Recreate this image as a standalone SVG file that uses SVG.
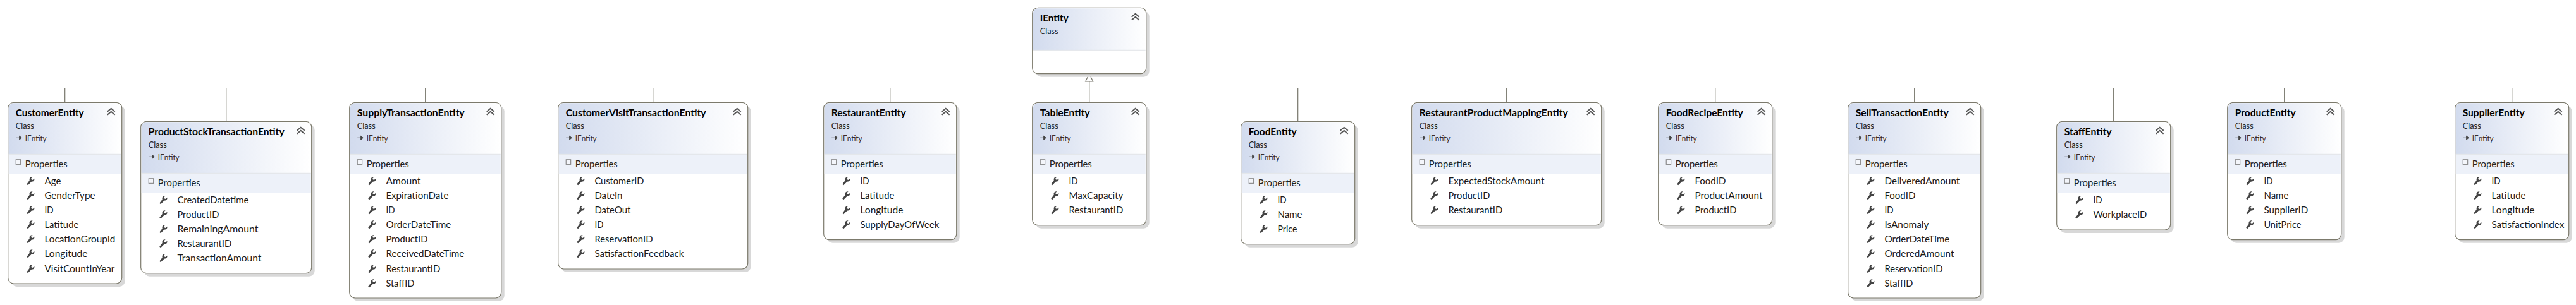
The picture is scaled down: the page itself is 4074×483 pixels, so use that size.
<svg xmlns="http://www.w3.org/2000/svg" width="4074" height="483" viewBox="0 0 4074 483">
<style>
text{font-family:"Lato","Noto Sans",sans-serif;lengthAdjust:spacingAndGlyphs}
.t{font-size:15.5px;font-weight:700;fill:#000}
.c{font-size:13.3px;fill:#222}
.i{font-size:13.3px;fill:#3a2a2a}
.p{font-size:15px;fill:#222}
.m{font-size:15px;fill:#1a1a1a}
.box{fill:#fff;stroke:#7c7a6c;stroke-width:1.2}
.sh{fill:#d8d8d8}
.hd{fill:url(#hg)}
.band{fill:#edf1f9}
.sep{stroke:#e2e4e8;stroke-width:1;fill:none}
.cn{fill:none;stroke:#77756a;stroke-width:1.2}
</style>
<defs>
<linearGradient id="hg" x1="0" x2="1" y1="0" y2="0"><stop offset="0" stop-color="#d2dbee"/><stop offset="1" stop-color="#fff"/></linearGradient>
<g id="w"><path d="M0.5 11.5L2.5 13L8 7.5Q11.5 7.5 12.5 5Q13 3.5 12.5 2.5L10 4.8L8 4L7.6 2L10 0Q7.5 -0.3 6 1Q4.2 2.6 5 5.5Z" fill="#444"/></g>
<g id="v"><path d="M0 5.5L6 0.5L12 5.5M0 10.5L6 5.5L12 10.5" fill="none" stroke="#555" stroke-width="2"/></g>
<g id="x"><rect x="0.5" y="0.5" width="7.5" height="7.5" fill="#f4f6fb" stroke="#777"/><path d="M2 4.2H6.5" stroke="#333"/></g>
<g id="a"><path d="M0 4H6M5.5 1V7L9 4Z" fill="#444" stroke="#444" stroke-width="1"/></g>
</defs>
<g id="connectors">
<path class="cn" d="M102.7 139.5H3972.7M1722.7 129V162M102.7 139.5V162M357.7 139.5V192M672.7 139.5V162M1032.7 139.5V162M1407.7 139.5V162M2052.7 139.5V192M2382.7 139.5V162M2712.7 139.5V162M3027.7 139.5V162M3342.7 139.5V192M3612.7 139.5V162M3972.7 139.5V162"/>
<path d="M1722.7 117L1716.7 129H1728.7Z" fill="#fff" stroke="#77756a" stroke-width="1.2"/>
</g>
<g id="IEntity" transform="translate(1632.7 12.3)"><rect class="sh" x="5" y="5" width="180" height="104.4" rx="9"/><rect class="box" width="180" height="104.4" rx="9"/><path class="hd" d="M1 67V9A8 8 0 0 1 9 1H171A8 8 0 0 1 179 9V67Z"/><path class="sep" d="M1 67H179"/><use href="#v" x="157" y="9"/><text class="t" x="12" y="22" textLength="45" lengthAdjust="spacingAndGlyphs">IEntity</text><text class="c" x="12" y="42" textLength="29" lengthAdjust="spacingAndGlyphs">Class</text></g>

<g id="CustomerEntity" transform="translate(12.7 162.3)"><rect class="sh" x="5" y="5" width="180" height="286.7" rx="9"/><rect class="box" width="180" height="286.7" rx="9"/><path class="hd" d="M1 82V9A8 8 0 0 1 9 1H171A8 8 0 0 1 179 9V82Z"/><rect class="band" x="1" y="82" width="178" height="31"/><path class="sep" d="M1 82H179"/><use href="#v" x="157" y="9"/><use href="#a" x="12.5" y="52"/><use href="#x" x="12" y="90"/>
<text class="t" x="12" y="22" textLength="108" lengthAdjust="spacingAndGlyphs">CustomerEntity</text><text class="c" x="12" y="42" textLength="29" lengthAdjust="spacingAndGlyphs">Class</text><text class="i" x="27" y="62" textLength="34" lengthAdjust="spacingAndGlyphs">IEntity</text><text class="p" x="27" y="103" textLength="67" lengthAdjust="spacingAndGlyphs">Properties</text>
<use href="#w" x="29" y="118"/><text class="m" x="57.7" y="130" textLength="26" lengthAdjust="spacingAndGlyphs">Age</text>
<use href="#w" x="29" y="141"/><text class="m" x="57.7" y="153" textLength="80" lengthAdjust="spacingAndGlyphs">GenderType</text>
<use href="#w" x="29" y="164"/><text class="m" x="57.7" y="176" textLength="14" lengthAdjust="spacingAndGlyphs">ID</text>
<use href="#w" x="29" y="187"/><text class="m" x="57.7" y="199" textLength="54" lengthAdjust="spacingAndGlyphs">Latitude</text>
<use href="#w" x="29" y="210"/><text class="m" x="57.7" y="222" textLength="112" lengthAdjust="spacingAndGlyphs">LocationGroupId</text>
<use href="#w" x="29" y="233"/><text class="m" x="57.7" y="245" textLength="68" lengthAdjust="spacingAndGlyphs">Longitude</text>
<use href="#w" x="29" y="257"/><text class="m" x="57.7" y="269" textLength="111" lengthAdjust="spacingAndGlyphs">VisitCountInYear</text></g>

<g id="ProductStockTransactionEntity" transform="translate(222.7 192.3)"><rect class="sh" x="5" y="5" width="270" height="240.4" rx="9"/><rect class="box" width="270" height="240.4" rx="9"/><path class="hd" d="M1 82V9A8 8 0 0 1 9 1H261A8 8 0 0 1 269 9V82Z"/><rect class="band" x="1" y="82" width="268" height="31"/><path class="sep" d="M1 82H269"/><use href="#v" x="247" y="9"/><use href="#a" x="12.5" y="52"/><use href="#x" x="12" y="90"/>
<text class="t" x="12" y="22" textLength="215" lengthAdjust="spacingAndGlyphs">ProductStockTransactionEntity</text><text class="c" x="12" y="42" textLength="29" lengthAdjust="spacingAndGlyphs">Class</text><text class="i" x="27" y="62" textLength="34" lengthAdjust="spacingAndGlyphs">IEntity</text><text class="p" x="27" y="103" textLength="67" lengthAdjust="spacingAndGlyphs">Properties</text>
<use href="#w" x="29" y="118"/><text class="m" x="57.7" y="130" textLength="113" lengthAdjust="spacingAndGlyphs">CreatedDatetime</text>
<use href="#w" x="29" y="141"/><text class="m" x="57.7" y="153" textLength="66" lengthAdjust="spacingAndGlyphs">ProductID</text>
<use href="#w" x="29" y="164"/><text class="m" x="57.7" y="176" textLength="128" lengthAdjust="spacingAndGlyphs">RemainingAmount</text>
<use href="#w" x="29" y="187"/><text class="m" x="57.7" y="199" textLength="86" lengthAdjust="spacingAndGlyphs">RestaurantID</text>
<use href="#w" x="29" y="210"/><text class="m" x="57.7" y="222" textLength="133" lengthAdjust="spacingAndGlyphs">TransactionAmount</text></g>

<g id="SupplyTransactionEntity" transform="translate(552.7 162.3)"><rect class="sh" x="5" y="5" width="240" height="309.7" rx="9"/><rect class="box" width="240" height="309.7" rx="9"/><path class="hd" d="M1 82V9A8 8 0 0 1 9 1H231A8 8 0 0 1 239 9V82Z"/><rect class="band" x="1" y="82" width="238" height="31"/><path class="sep" d="M1 82H239"/><use href="#v" x="217" y="9"/><use href="#a" x="12.5" y="52"/><use href="#x" x="12" y="90"/>
<text class="t" x="12" y="22" textLength="170" lengthAdjust="spacingAndGlyphs">SupplyTransactionEntity</text><text class="c" x="12" y="42" textLength="29" lengthAdjust="spacingAndGlyphs">Class</text><text class="i" x="27" y="62" textLength="34" lengthAdjust="spacingAndGlyphs">IEntity</text><text class="p" x="27" y="103" textLength="67" lengthAdjust="spacingAndGlyphs">Properties</text>
<use href="#w" x="29" y="118"/><text class="m" x="57.7" y="130" textLength="55" lengthAdjust="spacingAndGlyphs">Amount</text>
<use href="#w" x="29" y="141"/><text class="m" x="57.7" y="153" textLength="99" lengthAdjust="spacingAndGlyphs">ExpirationDate</text>
<use href="#w" x="29" y="164"/><text class="m" x="57.7" y="176" textLength="14" lengthAdjust="spacingAndGlyphs">ID</text>
<use href="#w" x="29" y="187"/><text class="m" x="57.7" y="199" textLength="103" lengthAdjust="spacingAndGlyphs">OrderDateTime</text>
<use href="#w" x="29" y="210"/><text class="m" x="57.7" y="222" textLength="66" lengthAdjust="spacingAndGlyphs">ProductID</text>
<use href="#w" x="29" y="233"/><text class="m" x="57.7" y="245" textLength="124" lengthAdjust="spacingAndGlyphs">ReceivedDateTime</text>
<use href="#w" x="29" y="257"/><text class="m" x="57.7" y="269" textLength="86" lengthAdjust="spacingAndGlyphs">RestaurantID</text>
<use href="#w" x="29" y="280"/><text class="m" x="57.7" y="292" textLength="45" lengthAdjust="spacingAndGlyphs">StaffID</text></g>

<g id="CustomerVisitTransactionEntity" transform="translate(882.7 162.3)"><rect class="sh" x="5" y="5" width="300" height="263.7" rx="9"/><rect class="box" width="300" height="263.7" rx="9"/><path class="hd" d="M1 82V9A8 8 0 0 1 9 1H291A8 8 0 0 1 299 9V82Z"/><rect class="band" x="1" y="82" width="298" height="31"/><path class="sep" d="M1 82H299"/><use href="#v" x="277" y="9"/><use href="#a" x="12.5" y="52"/><use href="#x" x="12" y="90"/>
<text class="t" x="12" y="22" textLength="222" lengthAdjust="spacingAndGlyphs">CustomerVisitTransactionEntity</text><text class="c" x="12" y="42" textLength="29" lengthAdjust="spacingAndGlyphs">Class</text><text class="i" x="27" y="62" textLength="34" lengthAdjust="spacingAndGlyphs">IEntity</text><text class="p" x="27" y="103" textLength="67" lengthAdjust="spacingAndGlyphs">Properties</text>
<use href="#w" x="29" y="118"/><text class="m" x="57.7" y="130" textLength="78" lengthAdjust="spacingAndGlyphs">CustomerID</text>
<use href="#w" x="29" y="141"/><text class="m" x="57.7" y="153" textLength="44" lengthAdjust="spacingAndGlyphs">DateIn</text>
<use href="#w" x="29" y="164"/><text class="m" x="57.7" y="176" textLength="57" lengthAdjust="spacingAndGlyphs">DateOut</text>
<use href="#w" x="29" y="187"/><text class="m" x="57.7" y="199" textLength="14" lengthAdjust="spacingAndGlyphs">ID</text>
<use href="#w" x="29" y="210"/><text class="m" x="57.7" y="222" textLength="92" lengthAdjust="spacingAndGlyphs">ReservationID</text>
<use href="#w" x="29" y="233"/><text class="m" x="57.7" y="245" textLength="141" lengthAdjust="spacingAndGlyphs">SatisfactionFeedback</text></g>

<g id="RestaurantEntity" transform="translate(1302.7 162.3)"><rect class="sh" x="5" y="5" width="210" height="217.4" rx="9"/><rect class="box" width="210" height="217.4" rx="9"/><path class="hd" d="M1 82V9A8 8 0 0 1 9 1H201A8 8 0 0 1 209 9V82Z"/><rect class="band" x="1" y="82" width="208" height="31"/><path class="sep" d="M1 82H209"/><use href="#v" x="187" y="9"/><use href="#a" x="12.5" y="52"/><use href="#x" x="12" y="90"/>
<text class="t" x="12" y="22" textLength="118" lengthAdjust="spacingAndGlyphs">RestaurantEntity</text><text class="c" x="12" y="42" textLength="29" lengthAdjust="spacingAndGlyphs">Class</text><text class="i" x="27" y="62" textLength="34" lengthAdjust="spacingAndGlyphs">IEntity</text><text class="p" x="27" y="103" textLength="67" lengthAdjust="spacingAndGlyphs">Properties</text>
<use href="#w" x="29" y="118"/><text class="m" x="57.7" y="130" textLength="14" lengthAdjust="spacingAndGlyphs">ID</text>
<use href="#w" x="29" y="141"/><text class="m" x="57.7" y="153" textLength="54" lengthAdjust="spacingAndGlyphs">Latitude</text>
<use href="#w" x="29" y="164"/><text class="m" x="57.7" y="176" textLength="68" lengthAdjust="spacingAndGlyphs">Longitude</text>
<use href="#w" x="29" y="187"/><text class="m" x="57.7" y="199" textLength="125" lengthAdjust="spacingAndGlyphs">SupplyDayOfWeek</text></g>

<g id="TableEntity" transform="translate(1632.7 162.3)"><rect class="sh" x="5" y="5" width="180" height="194.4" rx="9"/><rect class="box" width="180" height="194.4" rx="9"/><path class="hd" d="M1 82V9A8 8 0 0 1 9 1H171A8 8 0 0 1 179 9V82Z"/><rect class="band" x="1" y="82" width="178" height="31"/><path class="sep" d="M1 82H179"/><use href="#v" x="157" y="9"/><use href="#a" x="12.5" y="52"/><use href="#x" x="12" y="90"/>
<text class="t" x="12" y="22" textLength="79" lengthAdjust="spacingAndGlyphs">TableEntity</text><text class="c" x="12" y="42" textLength="29" lengthAdjust="spacingAndGlyphs">Class</text><text class="i" x="27" y="62" textLength="34" lengthAdjust="spacingAndGlyphs">IEntity</text><text class="p" x="27" y="103" textLength="67" lengthAdjust="spacingAndGlyphs">Properties</text>
<use href="#w" x="29" y="118"/><text class="m" x="57.7" y="130" textLength="14" lengthAdjust="spacingAndGlyphs">ID</text>
<use href="#w" x="29" y="141"/><text class="m" x="57.7" y="153" textLength="86" lengthAdjust="spacingAndGlyphs">MaxCapacity</text>
<use href="#w" x="29" y="164"/><text class="m" x="57.7" y="176" textLength="86" lengthAdjust="spacingAndGlyphs">RestaurantID</text></g>

<g id="FoodEntity" transform="translate(1962.7 192.3)"><rect class="sh" x="5" y="5" width="180" height="194.4" rx="9"/><rect class="box" width="180" height="194.4" rx="9"/><path class="hd" d="M1 82V9A8 8 0 0 1 9 1H171A8 8 0 0 1 179 9V82Z"/><rect class="band" x="1" y="82" width="178" height="31"/><path class="sep" d="M1 82H179"/><use href="#v" x="157" y="9"/><use href="#a" x="12.5" y="52"/><use href="#x" x="12" y="90"/>
<text class="t" x="12" y="22" textLength="76" lengthAdjust="spacingAndGlyphs">FoodEntity</text><text class="c" x="12" y="42" textLength="29" lengthAdjust="spacingAndGlyphs">Class</text><text class="i" x="27" y="62" textLength="34" lengthAdjust="spacingAndGlyphs">IEntity</text><text class="p" x="27" y="103" textLength="67" lengthAdjust="spacingAndGlyphs">Properties</text>
<use href="#w" x="29" y="118"/><text class="m" x="57.7" y="130" textLength="14" lengthAdjust="spacingAndGlyphs">ID</text>
<use href="#w" x="29" y="141"/><text class="m" x="57.7" y="153" textLength="39" lengthAdjust="spacingAndGlyphs">Name</text>
<use href="#w" x="29" y="164"/><text class="m" x="57.7" y="176" textLength="31" lengthAdjust="spacingAndGlyphs">Price</text></g>

<g id="RestaurantProductMappingEntity" transform="translate(2232.7 162.3)"><rect class="sh" x="5" y="5" width="300" height="194.4" rx="9"/><rect class="box" width="300" height="194.4" rx="9"/><path class="hd" d="M1 82V9A8 8 0 0 1 9 1H291A8 8 0 0 1 299 9V82Z"/><rect class="band" x="1" y="82" width="298" height="31"/><path class="sep" d="M1 82H299"/><use href="#v" x="277" y="9"/><use href="#a" x="12.5" y="52"/><use href="#x" x="12" y="90"/>
<text class="t" x="12" y="22" textLength="235" lengthAdjust="spacingAndGlyphs">RestaurantProductMappingEntity</text><text class="c" x="12" y="42" textLength="29" lengthAdjust="spacingAndGlyphs">Class</text><text class="i" x="27" y="62" textLength="34" lengthAdjust="spacingAndGlyphs">IEntity</text><text class="p" x="27" y="103" textLength="67" lengthAdjust="spacingAndGlyphs">Properties</text>
<use href="#w" x="29" y="118"/><text class="m" x="57.7" y="130" textLength="152" lengthAdjust="spacingAndGlyphs">ExpectedStockAmount</text>
<use href="#w" x="29" y="141"/><text class="m" x="57.7" y="153" textLength="66" lengthAdjust="spacingAndGlyphs">ProductID</text>
<use href="#w" x="29" y="164"/><text class="m" x="57.7" y="176" textLength="86" lengthAdjust="spacingAndGlyphs">RestaurantID</text></g>

<g id="FoodRecipeEntity" transform="translate(2622.7 162.3)"><rect class="sh" x="5" y="5" width="180" height="194.4" rx="9"/><rect class="box" width="180" height="194.4" rx="9"/><path class="hd" d="M1 82V9A8 8 0 0 1 9 1H171A8 8 0 0 1 179 9V82Z"/><rect class="band" x="1" y="82" width="178" height="31"/><path class="sep" d="M1 82H179"/><use href="#v" x="157" y="9"/><use href="#a" x="12.5" y="52"/><use href="#x" x="12" y="90"/>
<text class="t" x="12" y="22" textLength="122" lengthAdjust="spacingAndGlyphs">FoodRecipeEntity</text><text class="c" x="12" y="42" textLength="29" lengthAdjust="spacingAndGlyphs">Class</text><text class="i" x="27" y="62" textLength="34" lengthAdjust="spacingAndGlyphs">IEntity</text><text class="p" x="27" y="103" textLength="67" lengthAdjust="spacingAndGlyphs">Properties</text>
<use href="#w" x="29" y="118"/><text class="m" x="57.7" y="130" textLength="49" lengthAdjust="spacingAndGlyphs">FoodID</text>
<use href="#w" x="29" y="141"/><text class="m" x="57.7" y="153" textLength="107" lengthAdjust="spacingAndGlyphs">ProductAmount</text>
<use href="#w" x="29" y="164"/><text class="m" x="57.7" y="176" textLength="66" lengthAdjust="spacingAndGlyphs">ProductID</text></g>

<g id="SellTransactionEntity" transform="translate(2922.7 162.3)"><rect class="sh" x="5" y="5" width="210" height="309.7" rx="9"/><rect class="box" width="210" height="309.7" rx="9"/><path class="hd" d="M1 82V9A8 8 0 0 1 9 1H201A8 8 0 0 1 209 9V82Z"/><rect class="band" x="1" y="82" width="208" height="31"/><path class="sep" d="M1 82H209"/><use href="#v" x="187" y="9"/><use href="#a" x="12.5" y="52"/><use href="#x" x="12" y="90"/>
<text class="t" x="12" y="22" textLength="147" lengthAdjust="spacingAndGlyphs">SellTransactionEntity</text><text class="c" x="12" y="42" textLength="29" lengthAdjust="spacingAndGlyphs">Class</text><text class="i" x="27" y="62" textLength="34" lengthAdjust="spacingAndGlyphs">IEntity</text><text class="p" x="27" y="103" textLength="67" lengthAdjust="spacingAndGlyphs">Properties</text>
<use href="#w" x="29" y="118"/><text class="m" x="57.7" y="130" textLength="119" lengthAdjust="spacingAndGlyphs">DeliveredAmount</text>
<use href="#w" x="29" y="141"/><text class="m" x="57.7" y="153" textLength="49" lengthAdjust="spacingAndGlyphs">FoodID</text>
<use href="#w" x="29" y="164"/><text class="m" x="57.7" y="176" textLength="14" lengthAdjust="spacingAndGlyphs">ID</text>
<use href="#w" x="29" y="187"/><text class="m" x="57.7" y="199" textLength="70" lengthAdjust="spacingAndGlyphs">IsAnomaly</text>
<use href="#w" x="29" y="210"/><text class="m" x="57.7" y="222" textLength="103" lengthAdjust="spacingAndGlyphs">OrderDateTime</text>
<use href="#w" x="29" y="233"/><text class="m" x="57.7" y="245" textLength="110" lengthAdjust="spacingAndGlyphs">OrderedAmount</text>
<use href="#w" x="29" y="257"/><text class="m" x="57.7" y="269" textLength="92" lengthAdjust="spacingAndGlyphs">ReservationID</text>
<use href="#w" x="29" y="280"/><text class="m" x="57.7" y="292" textLength="45" lengthAdjust="spacingAndGlyphs">StaffID</text></g>

<g id="StaffEntity" transform="translate(3252.7 192.3)"><rect class="sh" x="5" y="5" width="180" height="171.7" rx="9"/><rect class="box" width="180" height="171.7" rx="9"/><path class="hd" d="M1 82V9A8 8 0 0 1 9 1H171A8 8 0 0 1 179 9V82Z"/><rect class="band" x="1" y="82" width="178" height="31"/><path class="sep" d="M1 82H179"/><use href="#v" x="157" y="9"/><use href="#a" x="12.5" y="52"/><use href="#x" x="12" y="90"/>
<text class="t" x="12" y="22" textLength="75" lengthAdjust="spacingAndGlyphs">StaffEntity</text><text class="c" x="12" y="42" textLength="29" lengthAdjust="spacingAndGlyphs">Class</text><text class="i" x="27" y="62" textLength="34" lengthAdjust="spacingAndGlyphs">IEntity</text><text class="p" x="27" y="103" textLength="67" lengthAdjust="spacingAndGlyphs">Properties</text>
<use href="#w" x="29" y="118"/><text class="m" x="57.7" y="130" textLength="14" lengthAdjust="spacingAndGlyphs">ID</text>
<use href="#w" x="29" y="141"/><text class="m" x="57.7" y="153" textLength="85" lengthAdjust="spacingAndGlyphs">WorkplaceID</text></g>

<g id="ProductEntity" transform="translate(3522.7 162.3)"><rect class="sh" x="5" y="5" width="180" height="217.4" rx="9"/><rect class="box" width="180" height="217.4" rx="9"/><path class="hd" d="M1 82V9A8 8 0 0 1 9 1H171A8 8 0 0 1 179 9V82Z"/><rect class="band" x="1" y="82" width="178" height="31"/><path class="sep" d="M1 82H179"/><use href="#v" x="157" y="9"/><use href="#a" x="12.5" y="52"/><use href="#x" x="12" y="90"/>
<text class="t" x="12" y="22" textLength="96" lengthAdjust="spacingAndGlyphs">ProductEntity</text><text class="c" x="12" y="42" textLength="29" lengthAdjust="spacingAndGlyphs">Class</text><text class="i" x="27" y="62" textLength="34" lengthAdjust="spacingAndGlyphs">IEntity</text><text class="p" x="27" y="103" textLength="67" lengthAdjust="spacingAndGlyphs">Properties</text>
<use href="#w" x="29" y="118"/><text class="m" x="57.7" y="130" textLength="14" lengthAdjust="spacingAndGlyphs">ID</text>
<use href="#w" x="29" y="141"/><text class="m" x="57.7" y="153" textLength="39" lengthAdjust="spacingAndGlyphs">Name</text>
<use href="#w" x="29" y="164"/><text class="m" x="57.7" y="176" textLength="70" lengthAdjust="spacingAndGlyphs">SupplierID</text>
<use href="#w" x="29" y="187"/><text class="m" x="57.7" y="199" textLength="59" lengthAdjust="spacingAndGlyphs">UnitPrice</text></g>

<g id="SupplierEntity" transform="translate(3882.7 162.3)"><rect class="sh" x="5" y="5" width="180" height="217.4" rx="9"/><rect class="box" width="180" height="217.4" rx="9"/><path class="hd" d="M1 82V9A8 8 0 0 1 9 1H171A8 8 0 0 1 179 9V82Z"/><rect class="band" x="1" y="82" width="178" height="31"/><path class="sep" d="M1 82H179"/><use href="#v" x="157" y="9"/><use href="#a" x="12.5" y="52"/><use href="#x" x="12" y="90"/>
<text class="t" x="12" y="22" textLength="98" lengthAdjust="spacingAndGlyphs">SupplierEntity</text><text class="c" x="12" y="42" textLength="29" lengthAdjust="spacingAndGlyphs">Class</text><text class="i" x="27" y="62" textLength="34" lengthAdjust="spacingAndGlyphs">IEntity</text><text class="p" x="27" y="103" textLength="67" lengthAdjust="spacingAndGlyphs">Properties</text>
<use href="#w" x="29" y="118"/><text class="m" x="57.7" y="130" textLength="14" lengthAdjust="spacingAndGlyphs">ID</text>
<use href="#w" x="29" y="141"/><text class="m" x="57.7" y="153" textLength="54" lengthAdjust="spacingAndGlyphs">Latitude</text>
<use href="#w" x="29" y="164"/><text class="m" x="57.7" y="176" textLength="68" lengthAdjust="spacingAndGlyphs">Longitude</text>
<use href="#w" x="29" y="187"/><text class="m" x="57.7" y="199" textLength="115" lengthAdjust="spacingAndGlyphs">SatisfactionIndex</text></g>
</svg>
